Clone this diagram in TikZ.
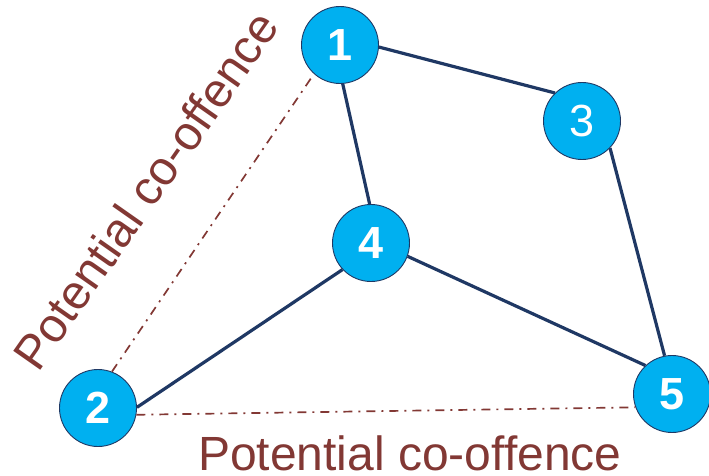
\documentclass[tikz,border=0pt]{standalone}
\usepackage{fontspec}
\setmainfont{Liberation Sans}
\definecolor{nodefill}{RGB}{0,176,240}
\definecolor{navy}{RGB}{31,56,100}
\definecolor{brickred}{RGB}{130,56,52}
\begin{document}
\begin{tikzpicture}[x=1pt,y=-1pt,
  vertex/.style={circle,fill=nodefill,draw=navy,line width=0.9pt,minimum size=77pt,inner sep=0pt,text=white,font=\fontsize{45}{45}\selectfont\bfseries},
  vertexlight/.style={vertex,font=\fontsize{45}{45}\selectfont},
  link/.style={draw=navy,line width=3.2pt},
  potential/.style={draw=brickred,line width=1.7pt,dash pattern=on 9pt off 6pt on 2pt off 6pt},
  potlabel/.style={text=brickred,inner sep=0pt,font=\fontsize{48}{48}\selectfont}]
\useasboundingbox (0,0) rectangle (709,476);
\node[vertex] (n1) at (340,45) {1};
\node[vertexlight] (n3) at (582,121) {3};
\node[vertex] (n4) at (371,243) {4};
\node[vertex] (n2) at (98,408) {2};
\node[vertex] (n5) at (672,394) {5};
\draw[link] (n1.-3) -- (n3.134);
\draw[link] (n1.-86) -- (n4.92);
\draw[link] (n3.-44) -- (n5.101);
\draw[link] (n4.-20) -- (n5.133);
\draw[link] (n4.223) -- (n2.1);
\draw[potential] (n2.69) -- (n1.228);
\draw[potential] (n2.-10) -- (n5.200);
\node[potlabel,anchor=base west,rotate=55] (lab1) at (38,374) {Potential co-offence};
\node[potlabel,anchor=base west] (lab2) at (198,470) {Potential co-offence};
\end{tikzpicture}
\end{document}
